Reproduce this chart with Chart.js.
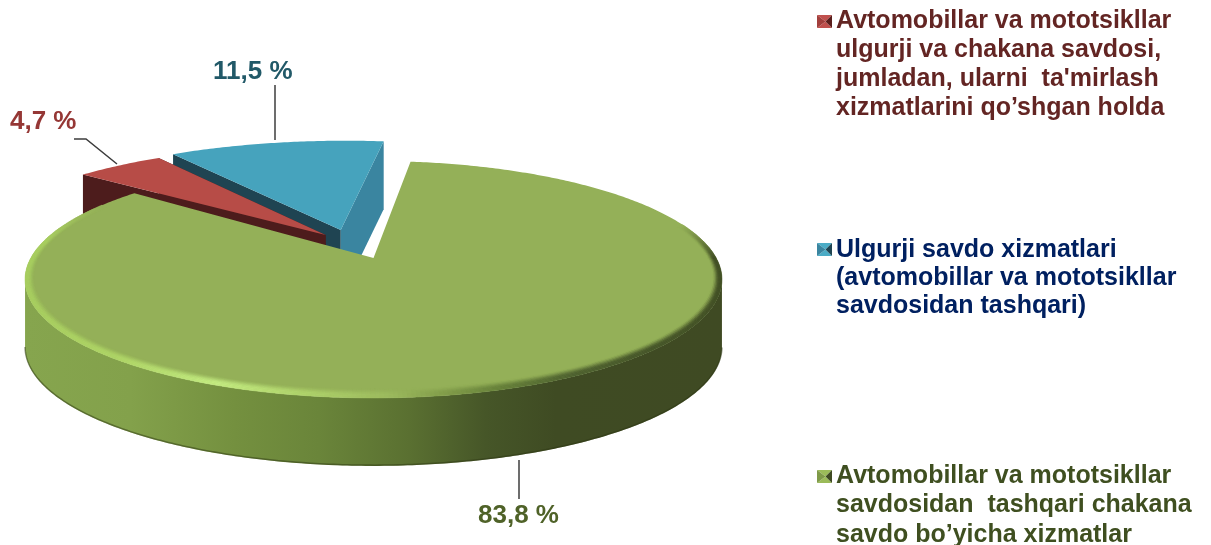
<!DOCTYPE html>
<html>
<head>
<meta charset="utf-8">
<style>html,body{margin:0;padding:0;background:#fff}canvas{display:block}</style>
<script src="https://cdn.jsdelivr.net/npm/chart.js@4"></script>
</head>
<body>
<canvas id="c" width="1211" height="545"></canvas>
<script>
const categories = [
  "Avtomobillar  va mototsikllar ulgurji  va chakana savdosi, jumladan, ularni  ta'mirlash xizmatlarini qo’shgan holda",
  "Ulgurji savdo xizmatlari (avtomobillar va mototsikllar savdosidan tashqari)",
  "Avtomobillar  va mototsikllar savdosidan  tashqari chakana savdo bo’yicha xizmatlar"
];
const shareValues = [4.7, 11.5, 83.8];
const valueLabels = ["4,7 %", "11,5 %", "83,8 %"];
const legendLines = [
  ["Avtomobillar va mototsikllar", "ulgurji va chakana savdosi,", "jumladan, ularni  ta'mirlash", "xizmatlarini qo’shgan holda"],
  ["Ulgurji savdo xizmatlari", "(avtomobillar va mototsikllar", "savdosidan tashqari)"],
  ["Avtomobillar va mototsikllar", "savdosidan  tashqari chakana", "savdo bo’yicha xizmatlar"]
];
const sliceColors = ["#B74C47", "#46A3BD", "#94B058"];

/* ---- styling / projection constants ---- */
const P = {cx:373.5, cy:258, a:342.7, b:114.6, p:0.181, h:68};
const fit = [
  {ex:-.145, ez:.209, sx:1.07},
  {ex:-.1, ez:.256, sx:1.07},
  {ex:0, ez:0, sx:1}
];
const faceColors = [
  {start:"#4D1C1C", end:"#4D1C1C"},
  {start:"#1F4452", end:"#3A85A0"},
  {start:"#4a5a28", end:"#4a5a28"}
];
const legendStyle = [
  {color:"#632523", lh:29, y:28, my:15, c:["#C0504D","#5A1E1C","#A23F3C"]},
  {color:"#002060", lh:28.2, y:257, my:243, c:["#4BACC6","#1F4452","#3A85A0"]},
  {color:"#3F4F20", lh:29.3, y:483, my:470, c:["#9BBB59","#3F4A22","#7F9A48"]}
];
const labelStyle = [
  {color:"#953735", x:10, y:129, line:[[74,139],[86,139],[117,164]]},
  {color:"#215968", x:213, y:79, line:[[275,85],[275,140]]},
  {color:"#4F6228", x:478, y:523, line:[[519,460],[519,499]]}
];

function project(X, Z) {
  const w = 1 + P.p * Z;
  return [P.cx + P.a * X / w, P.cy - P.b * Z / w];
}
function slicePt(i, ang, r) {
  const f = fit[i];
  return project(f.ex + r * Math.cos(ang) * f.sx, f.ez - r * Math.sin(ang));
}
function poly(ctx, pts, dy) {
  ctx.beginPath();
  pts.forEach((q, k) => k ? ctx.lineTo(q[0], q[1] + (dy || 0)) : ctx.moveTo(q[0], q[1] + (dy || 0)));
  ctx.closePath();
}
function quad(ctx, a, b, color) {
  const h = P.h;
  ctx.beginPath();
  ctx.moveTo(a[0], a[1]); ctx.lineTo(b[0], b[1]);
  ctx.lineTo(b[0], b[1] + h); ctx.lineTo(a[0], a[1] + h);
  ctx.closePath();
  ctx.fillStyle = color; ctx.fill();
}
function hex(c){return [1,3,5].map(i=>parseInt(c.substr(i,2),16));}
function mix(a,b,t){return a.map((v,i)=>v+(b[i]-v)*t);}
function css(c){return "rgb("+c.map(v=>Math.round(v)).join(",")+")";}

/* rim colour along the green edge, keyed on screen x */
const rimStops = [[26,"#A8CE60"],[120,"#B0D668"],[215,"#C4EC82"],[300,"#B0D46C"],[390,"#9CBA5E"],[440,"#849F4C"],[500,"#66803A"],[570,"#4E6130"],[640,"#46562A"],[723,"#414E25"]];
function rimColor(x){
  for(let i=1;i<rimStops.length;i++){
    if(x<=rimStops[i][0]){
      const t=(x-rimStops[i-1][0])/(rimStops[i][0]-rimStops[i-1][0]);
      return mix(hex(rimStops[i-1][1]),hex(rimStops[i][1]),Math.max(0,t));
    }
  }
  return hex(rimStops[rimStops.length-1][1]);
}

const piePlugin = {
  id: "pie3d",
  beforeDatasetsDraw(chart) {
    const ctx = chart.ctx;
    const arcs = chart.getDatasetMeta(0).data;
    ctx.save();
    [1, 0, 2].forEach(i => {
      const {startAngle: s, endAngle: e} = arcs[i].getProps(["startAngle", "endAngle"], true);
      const N = Math.max(8, Math.round((e - s) * 90));
      const rim = [];
      for (let k = 0; k <= N; k++) rim.push(slicePt(i, s + (e - s) * k / N, 1));
      const apex = slicePt(i, 0, 0);
      // side wall
      if (i === 2) {
        const g = ctx.createLinearGradient(26, 0, 723, 0);
        [[0,"#86A54E"],[.15,"#83A14B"],[.3,"#74903F"],[.42,"#6A853A"],[.55,"#5A7031"],[.66,"#465628"],[.76,"#3F4B23"],[1,"#3F4A23"]]
          .forEach(q => g.addColorStop(q[0], q[1]));
        const near = [];
        for (let k = 0; k <= N; k++) {
          if (Math.sin(s + (e - s) * k / N) > P.p) near.push(rim[k]);
        }
        ctx.beginPath();
        near.forEach((q, k) => k ? ctx.lineTo(q[0], q[1]) : ctx.moveTo(q[0], q[1]));
        near.slice().reverse().forEach(q => ctx.lineTo(q[0], q[1] + P.h));
        ctx.closePath();
        ctx.fillStyle = g; ctx.fill();
        // darker lower edge
        ctx.beginPath();
        near.forEach((q, k) => k ? ctx.lineTo(q[0], q[1] + P.h - .8) : ctx.moveTo(q[0], q[1] + P.h - .8));
        ctx.strokeStyle = "rgba(45,55,20,.5)"; ctx.lineWidth = 1.5; ctx.stroke();
      } else {
        quad(ctx, rim[0], apex, faceColors[i].start);
        quad(ctx, rim[N], apex, faceColors[i].end);
      }
      // top face
      poly(ctx, [apex].concat(rim));
      ctx.fillStyle = sliceColors[i]; ctx.fill();
      // bevel on the big slice
      if (i === 2) {
        const base = hex(sliceColors[2]);
        const bands = 7;
        for (let b = 0; b < bands; b++) {
          const t0 = b / bands, t1 = (b + 1) / bands;
          const tm = Math.min(1, (t0 + t1) / 2 / .75);
          const ramp = tm * tm * (3 - 2 * tm);
          for (let k = 0; k < N; k++) {
            const ang = s + (e - s) * (k + .5) / N;
            const mx = slicePt(2, ang, 1);
            const sn = Math.sin(ang);
            const right = Math.cos(ang) > 0;
            const vis = Math.max(0, Math.min(1, right ? (sn + .3) / .3 : (sn + .5) / .35));
            if (vis <= 0) continue;
            const pt = (an, t) => {
              const sxr = .975 + .025 * t, szr = .945 + .055 * t;
              return project(sxr * Math.cos(an), -szr * Math.sin(an));
            };
            const a0 = s + (e - s) * k / N, a1 = s + (e - s) * (k + 1) / N;
            const q = [pt(a0, t0), pt(a1, t0), pt(a1, t1), pt(a0, t1)];
            const col = css(mix(base, rimColor(mx[0]), ramp * vis));
            poly(ctx, q);
            ctx.fillStyle = col; ctx.strokeStyle = col; ctx.lineWidth = .5; ctx.fill(); ctx.stroke();
          }
        }
      }
    });
    ctx.restore();
    return false;
  },
  afterDraw(chart) {
    const ctx = chart.ctx;
    ctx.save();
    ctx.textBaseline = "alphabetic";
    ctx.textAlign = "left";
    // leader lines and value labels
    valueLabels.forEach((t, i) => {
      const st = labelStyle[i];
      ctx.beginPath();
      st.line.forEach((q, k) => k ? ctx.lineTo(q[0], q[1]) : ctx.moveTo(q[0], q[1]));
      ctx.strokeStyle = "#3c3c3c"; ctx.lineWidth = 1.5; ctx.stroke();
      ctx.font = "bold 26px 'Liberation Sans'";
      ctx.fillStyle = st.color;
      ctx.fillText(t, st.x, st.y);
    });
    // legend
    legendLines.forEach((lines, i) => {
      const st = legendStyle[i];
      const x = 817, y = st.my, w = 15, h = 13, cx = x + w / 2 + 1, cy = y + h / 2;
      const tri = (a, b, c) => { ctx.beginPath(); ctx.moveTo(a[0], a[1]); ctx.lineTo(b[0], b[1]); ctx.lineTo(c[0], c[1]); ctx.closePath(); ctx.fillStyle = c[2]; ctx.fill(); };
      tri([x, y], [x + w, y], [cx, cy, st.c[0]]);
      tri([x, y + h], [x + w, y + h], [cx, cy, st.c[0]]);
      tri([x, y], [x, y + h], [cx, cy, st.c[2]]);
      tri([x + w, y], [x + w, y + h], [cx, cy, st.c[1]]);
      ctx.font = "bold 25px 'Liberation Sans'";
      ctx.fillStyle = st.color;
      lines.forEach((l, k) => ctx.fillText(l, 836, st.y + k * st.lh));
    });
    ctx.restore();
  }
};

new Chart(document.getElementById("c"), {
  type: "pie",
  data: {
    labels: categories,
    datasets: [{data: shareValues, backgroundColor: sliceColors, borderWidth: 0}]
  },
  options: {
    responsive: false,
    animation: false,
    rotation: 309,
    plugins: {legend: {display: false}, tooltip: {enabled: false}}
  },
  plugins: [piePlugin]
});
</script>
</body>
</html>
